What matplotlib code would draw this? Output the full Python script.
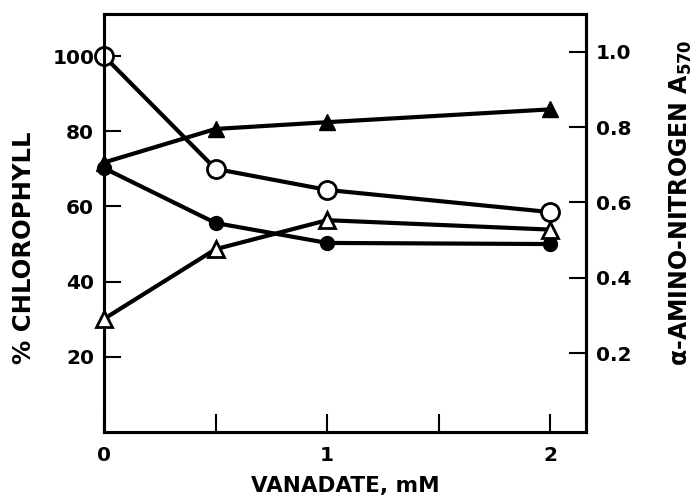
import matplotlib
matplotlib.use('Agg')
import matplotlib.pyplot as plt

# Data
vanadate = [0, 0.5, 1, 2]
chl_open = [100, 70, 64.4, 58.5]          # % chlorophyll, open circles
chl_filled = [70.2, 55.6, 50.3, 50.0]     # % chlorophyll, filled circles
amino_filled = [0.706, 0.795, 0.813, 0.847]  # A570, filled triangles
amino_open = [0.291, 0.476, 0.553, 0.528]    # A570, open triangles

x_ticks = [0, 0.5, 1, 1.5, 2]
x_ticklabels = ['0', '', '1', '', '2']
left_ticks = [20, 40, 60, 80, 100]
right_ticks = [0.2, 0.4, 0.6, 0.8, 1.0]
right_ticklabels = ['0.2', '0.4', '0.6', '0.8', '1.0']

plt.rcParams['font.family'] = ['DejaVu Sans']
plt.rcParams['font.weight'] = 'bold'
plt.rcParams['mathtext.default'] = 'bf'

fig = plt.figure(figsize=(6.95, 4.98), dpi=100)
ax = fig.add_axes([0.1496, 0.1325, 0.6935, 0.8394])
ax.set_xlim(0, 2.16)
ax.set_ylim(0, 111.2)
ax2 = ax.twinx()
ax2.set_ylim(-0.009, 1.10)

lw = 3
ax.plot(vanadate, chl_open, color='black', lw=lw, marker='o', ms=13,
        mfc='white', mec='black', mew=2, clip_on=False, zorder=3)
ax.plot(vanadate, chl_filled, color='black', lw=lw, marker='o', ms=10,
        mfc='black', mec='black', clip_on=False, zorder=3)
ax2.plot(vanadate, amino_filled, color='black', lw=lw, marker='^', ms=12,
         mfc='black', mec='black', clip_on=False, zorder=3)
ax2.plot(vanadate, amino_open, color='black', lw=lw, marker='^', ms=12,
         mfc='white', mec='black', mew=2, clip_on=False, zorder=3)

ax.set_xticks(x_ticks)
ax.set_xticklabels(x_ticklabels)
ax.set_yticks(left_ticks)
ax.set_yticklabels([str(t) for t in left_ticks])
ax2.set_yticks(right_ticks)
ax2.set_yticklabels(right_ticklabels)

ax.tick_params(axis='y', direction='in', length=12, width=1.5, labelsize=14.5, pad=7)
ax.tick_params(axis='x', direction='in', length=13, width=1.5, labelsize=14.5, pad=10)
ax2.tick_params(axis='y', direction='in', length=12, width=1.5, labelsize=14.5, pad=7)

for a in (ax, ax2):
    for s in a.spines.values():
        s.set_linewidth(2.2)

ax.set_xlabel('VANADATE, mM', fontsize=15.5, fontweight='bold', labelpad=8)
ax.set_ylabel('% CHLOROPHYLL', fontsize=17.5, fontweight='bold')
ax.yaxis.set_label_coords(-0.166, 0.44)
ax.yaxis.label.set_verticalalignment('center')
ax2.set_ylabel('α-AMINO-NITROGEN A$_{570}$', fontsize=17, fontweight='bold')
ax2.yaxis.set_label_coords(1.197, 0.548)
ax2.yaxis.label.set_verticalalignment('center')

fig.savefig('out.png', dpi=100)
